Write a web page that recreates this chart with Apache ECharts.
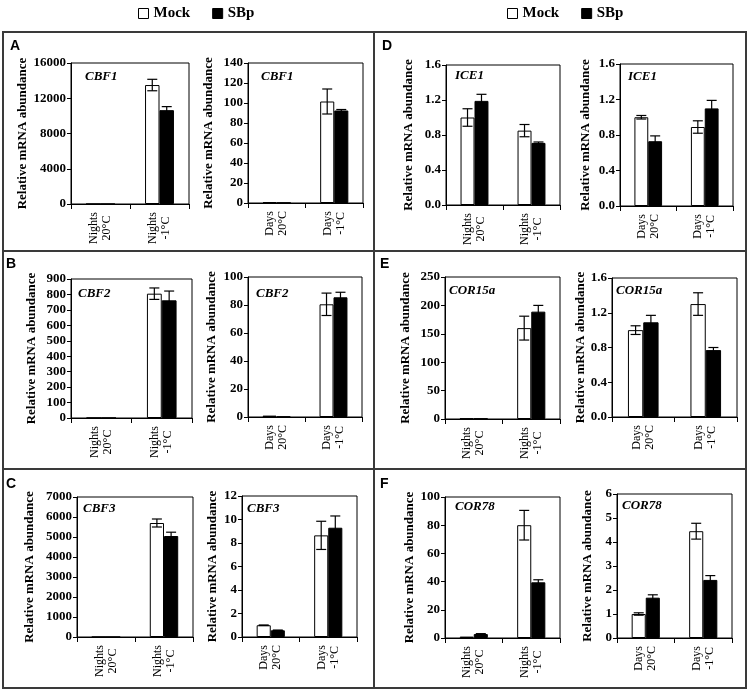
<!DOCTYPE html>
<html>
<head>
<meta charset="utf-8">
<script src="https://cdn.jsdelivr.net/npm/echarts@6/dist/echarts.min.js"></script>
<style>html,body{margin:0;padding:0;background:#fff}#c{width:750px;height:692px}</style>
</head>
<body>
<div id="c"></div>
<script>
// ---------- data ----------
const nightsCats = ['Nights\n20°C', 'Nights\n-1°C'];
const daysCats = ['Days\n20°C', 'Days\n-1°C'];
const seriesNames = ['Mock', 'SBp'];
const yTitle = 'Relative mRNA abundance';

// CBF1
const cbf1NightsMock = [1, 13500];
const cbf1NightsMockErr = [0, 650];
const cbf1NightsSBp = [1, 10650];
const cbf1NightsSBpErr = [0, 400];
const cbf1DaysMock = [1, 101.5];
const cbf1DaysMockErr = [0, 12.5];
const cbf1DaysSBp = [0.3, 92.5];
const cbf1DaysSBpErr = [0, 1];
// CBF2
const cbf2NightsMock = [1, 805];
const cbf2NightsMockErr = [0, 37];
const cbf2NightsSBp = [1, 762];
const cbf2NightsSBpErr = [0, 60];
const cbf2DaysMock = [1, 80.5];
const cbf2DaysMockErr = [0, 8];
const cbf2DaysSBp = [0.3, 85.5];
const cbf2DaysSBpErr = [0, 3.6];
// CBF3
const cbf3NightsMock = [1, 5700];
const cbf3NightsMockErr = [0, 200];
const cbf3NightsSBp = [1, 5050];
const cbf3NightsSBpErr = [0, 190];
const cbf3DaysMock = [1.0, 8.65];
const cbf3DaysMockErr = [0.02, 1.2];
const cbf3DaysSBp = [0.57, 9.3];
const cbf3DaysSBpErr = [0.02, 1.0];
// ICE1
const ice1NightsMock = [1.0, 0.85];
const ice1NightsMockErr = [0.1, 0.07];
const ice1NightsSBp = [1.19, 0.71];
const ice1NightsSBpErr = [0.075, 0.01];
const ice1DaysMock = [1.0, 0.89];
const ice1DaysMockErr = [0.02, 0.07];
const ice1DaysSBp = [0.73, 1.1];
const ice1DaysSBpErr = [0.06, 0.09];
// COR15a
const cor15aNightsMock = [1, 160];
const cor15aNightsMockErr = [0, 21];
const cor15aNightsSBp = [1, 189];
const cor15aNightsSBpErr = [0, 11];
const cor15aDaysMock = [1.0, 1.3];
const cor15aDaysMockErr = [0.05, 0.13];
const cor15aDaysSBp = [1.09, 0.77];
const cor15aDaysSBpErr = [0.08, 0.03];
// COR78
const cor78NightsMock = [1, 80];
const cor78NightsMockErr = [0, 10.5];
const cor78NightsSBp = [2.8, 39.5];
const cor78NightsSBpErr = [0.3, 1.8];
const cor78DaysMock = [1.0, 4.45];
const cor78DaysMockErr = [0.05, 0.33];
const cor78DaysSBp = [1.68, 2.42];
const cor78DaysSBpErr = [0.12, 0.18];

// y-axis scales (max, interval, decimals)
const yScales = {
  cbf1N: [16000, 4000, 0], cbf1D: [140, 20, 0],
  cbf2N: [900, 100, 0], cbf2D: [100, 20, 0],
  cbf3N: [7000, 1000, 0], cbf3D: [12, 2, 0],
  ice1N: [1.6, 0.4, 1], ice1D: [1.6, 0.4, 1],
  cor15aN: [250, 50, 0], cor15aD: [1.6, 0.4, 1],
  cor78N: [100, 20, 0], cor78D: [6, 1, 0]
};

// ---------- layout ----------
const SERIF = 'Liberation Serif';
const panels = [
  {gene:'CBF1', cats:nightsCats, mock:cbf1NightsMock, mockErr:cbf1NightsMockErr, sbp:cbf1NightsSBp, sbpErr:cbf1NightsSBpErr, sc:yScales.cbf1N, g:[71,63,118,141], gap:38, lab:[85,73]},
  {gene:'CBF1', cats:daysCats, mock:cbf1DaysMock, mockErr:cbf1DaysMockErr, sbp:cbf1DaysSBp, sbpErr:cbf1DaysSBpErr, sc:yScales.cbf1D, g:[248,63,115,140], gap:33, lab:[261,73]},
  {gene:'ICE1', cats:nightsCats, mock:ice1NightsMock, mockErr:ice1NightsMockErr, sbp:ice1NightsSBp, sbpErr:ice1NightsSBpErr, sc:yScales.ice1N, g:[446,65,114,140], gap:31, lab:[455,72]},
  {gene:'ICE1', cats:daysCats, mock:ice1DaysMock, mockErr:ice1DaysMockErr, sbp:ice1DaysSBp, sbpErr:ice1DaysSBpErr, sc:yScales.ice1D, g:[620,64,113,142], gap:28, lab:[628,73]},
  {gene:'CBF2', cats:nightsCats, mock:cbf2NightsMock, mockErr:cbf2NightsMockErr, sbp:cbf2NightsSBp, sbpErr:cbf2NightsSBpErr, sc:yScales.cbf2N, g:[71,279,121,139], gap:33, lab:[78,290]},
  {gene:'CBF2', cats:daysCats, mock:cbf2DaysMock, mockErr:cbf2DaysMockErr, sbp:cbf2DaysSBp, sbpErr:cbf2DaysSBpErr, sc:yScales.cbf2D, g:[248,277,114,140], gap:30, lab:[256,290]},
  {gene:'COR15a', cats:nightsCats, mock:cor15aNightsMock, mockErr:cor15aNightsMockErr, sbp:cor15aNightsSBp, sbpErr:cor15aNightsSBpErr, sc:yScales.cor15aN, g:[445,277,115,142], gap:33, lab:[449,287]},
  {gene:'COR15a', cats:daysCats, mock:cor15aDaysMock, mockErr:cor15aDaysMockErr, sbp:cor15aDaysSBp, sbpErr:cor15aDaysSBpErr, sc:yScales.cor15aD, g:[612,278,125,139], gap:25, lab:[616,287]},
  {gene:'CBF3', cats:nightsCats, mock:cbf3NightsMock, mockErr:cbf3NightsMockErr, sbp:cbf3NightsSBp, sbpErr:cbf3NightsSBpErr, sc:yScales.cbf3N, g:[77,497,116,140], gap:41, lab:[83,505]},
  {gene:'CBF3', cats:daysCats, mock:cbf3DaysMock, mockErr:cbf3DaysMockErr, sbp:cbf3DaysSBp, sbpErr:cbf3DaysSBpErr, sc:yScales.cbf3D, g:[242,496,115,141], gap:23, lab:[247,505]},
  {gene:'COR78', cats:nightsCats, mock:cor78NightsMock, mockErr:cor78NightsMockErr, sbp:cor78NightsSBp, sbpErr:cor78NightsSBpErr, sc:yScales.cor78N, g:[445,497,115,141], gap:25, lab:[455,503]},
  {gene:'COR78', cats:daysCats, mock:cor78DaysMock, mockErr:cor78DaysMockErr, sbp:cor78DaysSBp, sbpErr:cor78DaysSBpErr, sc:yScales.cor78D, g:[617,494,115,144], gap:23, lab:[622,502]}
];
const letters = [['A',10,39],['D',382,39],['B',6,257],['E',380,257],['C',6,477],['F',380,477]];

const BAR_FRAC = 0.245; // each bar = (1 - 0.51)/2 of the band

function renderErr(params, api) {
  const cat = api.value(0), val = api.value(1), err = api.value(2), s = api.value(3);
  if (!err) return null;
  const c = api.coord([cat, val]);
  const bw = api.size([1, 0])[0] * BAR_FRAC;
  const x = c[0] + (s === 0 ? -bw / 2 : bw / 2);
  const yT = api.coord([cat, val + err])[1];
  const yB = api.coord([cat, val - err])[1];
  const cap = 5, st = {stroke: '#000', lineWidth: 1.2};
  return {type: 'group', children: [
    {type: 'line', shape: {x1: x, y1: yT, x2: x, y2: yB}, style: st},
    {type: 'line', shape: {x1: x - cap, y1: yT, x2: x + cap, y2: yT}, style: st},
    {type: 'line', shape: {x1: x - cap, y1: yB, x2: x + cap, y2: yB}, style: st}
  ]};
}

const grids = [], xAxes = [], yAxes = [], series = [], graphics = [];
panels.forEach((p, i) => {
  grids.push({left: p.g[0], top: p.g[1], width: p.g[2], height: p.g[3], show: true,
    borderColor: '#000', borderWidth: 1, backgroundColor: 'transparent'});
  xAxes.push({type: 'category', gridIndex: i, data: p.cats,
    axisLine: {lineStyle: {color: '#000', width: 1}},
    axisTick: {show: true, length: 5, lineStyle: {color: '#000'}},
    axisLabel: {rotate: 90, margin: 8, interval: 0, color: '#000',
      formatter: v => v.split('\n').map(s => '{c|' + s + '}').join('\n'),
      rich: {c: {align: 'center', fontFamily: SERIF, fontSize: 12, lineHeight: 13, color: '#000'}}}
  });
  const dec = p.sc[2];
  yAxes.push({type: 'value', gridIndex: i, min: 0, max: p.sc[0], interval: p.sc[1],
    name: yTitle, nameLocation: 'middle', nameGap: p.gap,
    nameTextStyle: {fontFamily: SERIF, fontWeight: 'bold', fontSize: 13, color: '#000'},
    axisLine: {show: true, lineStyle: {color: '#000', width: 1}},
    axisTick: {show: true, length: 4, lineStyle: {color: '#000'}},
    splitLine: {show: false},
    axisLabel: {margin: 5, color: '#000', fontFamily: SERIF, fontWeight: 'bold', fontSize: 13,
      formatter: v => dec ? v.toFixed(dec) : String(Math.round(v))}
  });
  series.push({name: seriesNames[0], type: 'bar', xAxisIndex: i, yAxisIndex: i, data: p.mock,
    barGap: '0%', barCategoryGap: '51%',
    itemStyle: {color: '#fff', borderColor: '#000', borderWidth: 1}});
  series.push({name: seriesNames[1], type: 'bar', xAxisIndex: i, yAxisIndex: i, data: p.sbp,
    barGap: '0%', barCategoryGap: '51%',
    itemStyle: {color: '#000', borderColor: '#000', borderWidth: 1}});
  const errData = [];
  p.mock.forEach((v, k) => errData.push([k, v, p.mockErr[k], 0]));
  p.sbp.forEach((v, k) => errData.push([k, v, p.sbpErr[k], 1]));
  series.push({type: 'custom', xAxisIndex: i, yAxisIndex: i, renderItem: renderErr,
    data: errData, encode: {x: 0, y: 1}, clip: false, z: 5, silent: true});
  graphics.push({type: 'text', left: p.lab[0], top: p.lab[1] - 3, z: 10,
    style: {text: p.gene, fontFamily: SERIF, fontWeight: 'bold', fontStyle: 'italic', fontSize: 13, fill: '#000'}});
});

// frame
const frameStyle = {stroke: '#3a3a3a', lineWidth: 2, fill: null};
graphics.push({type: 'rect', shape: {x: 3, y: 32, width: 743, height: 656}, style: frameStyle, z: 1});
graphics.push({type: 'line', shape: {x1: 374, y1: 32, x2: 374, y2: 688}, style: frameStyle, z: 1});
graphics.push({type: 'line', shape: {x1: 3, y1: 251, x2: 746, y2: 251}, style: frameStyle, z: 1});
graphics.push({type: 'line', shape: {x1: 3, y1: 469, x2: 746, y2: 469}, style: frameStyle, z: 1});
letters.forEach(l => graphics.push({type: 'text', left: l[1], top: l[2], z: 10,
  style: {text: l[0], fontFamily: 'Liberation Sans', fontWeight: 'bold', fontSize: 14, fill: '#000'}}));

const legendData = [
  {name: seriesNames[0], itemStyle: {color: '#fff', borderColor: '#000', borderWidth: 1}},
  {name: seriesNames[1], itemStyle: {color: '#000', borderColor: '#000', borderWidth: 1}}
];
const legendBase = {top: 1, itemWidth: 10, itemHeight: 10, itemGap: 22, icon: 'rect',
  selectedMode: false, data: legendData,
  textStyle: {fontFamily: SERIF, fontWeight: 'bold', fontSize: 15, color: '#000'}};

const chart = echarts.init(document.getElementById('c'), null, {renderer: 'canvas'});
chart.setOption({
  animation: false,
  backgroundColor: '#fff',
  legend: [Object.assign({left: 133}, legendBase), Object.assign({left: 502}, legendBase)],
  grid: grids, xAxis: xAxes, yAxis: yAxes, series: series, graphic: graphics
});
</script>
</body>
</html>
